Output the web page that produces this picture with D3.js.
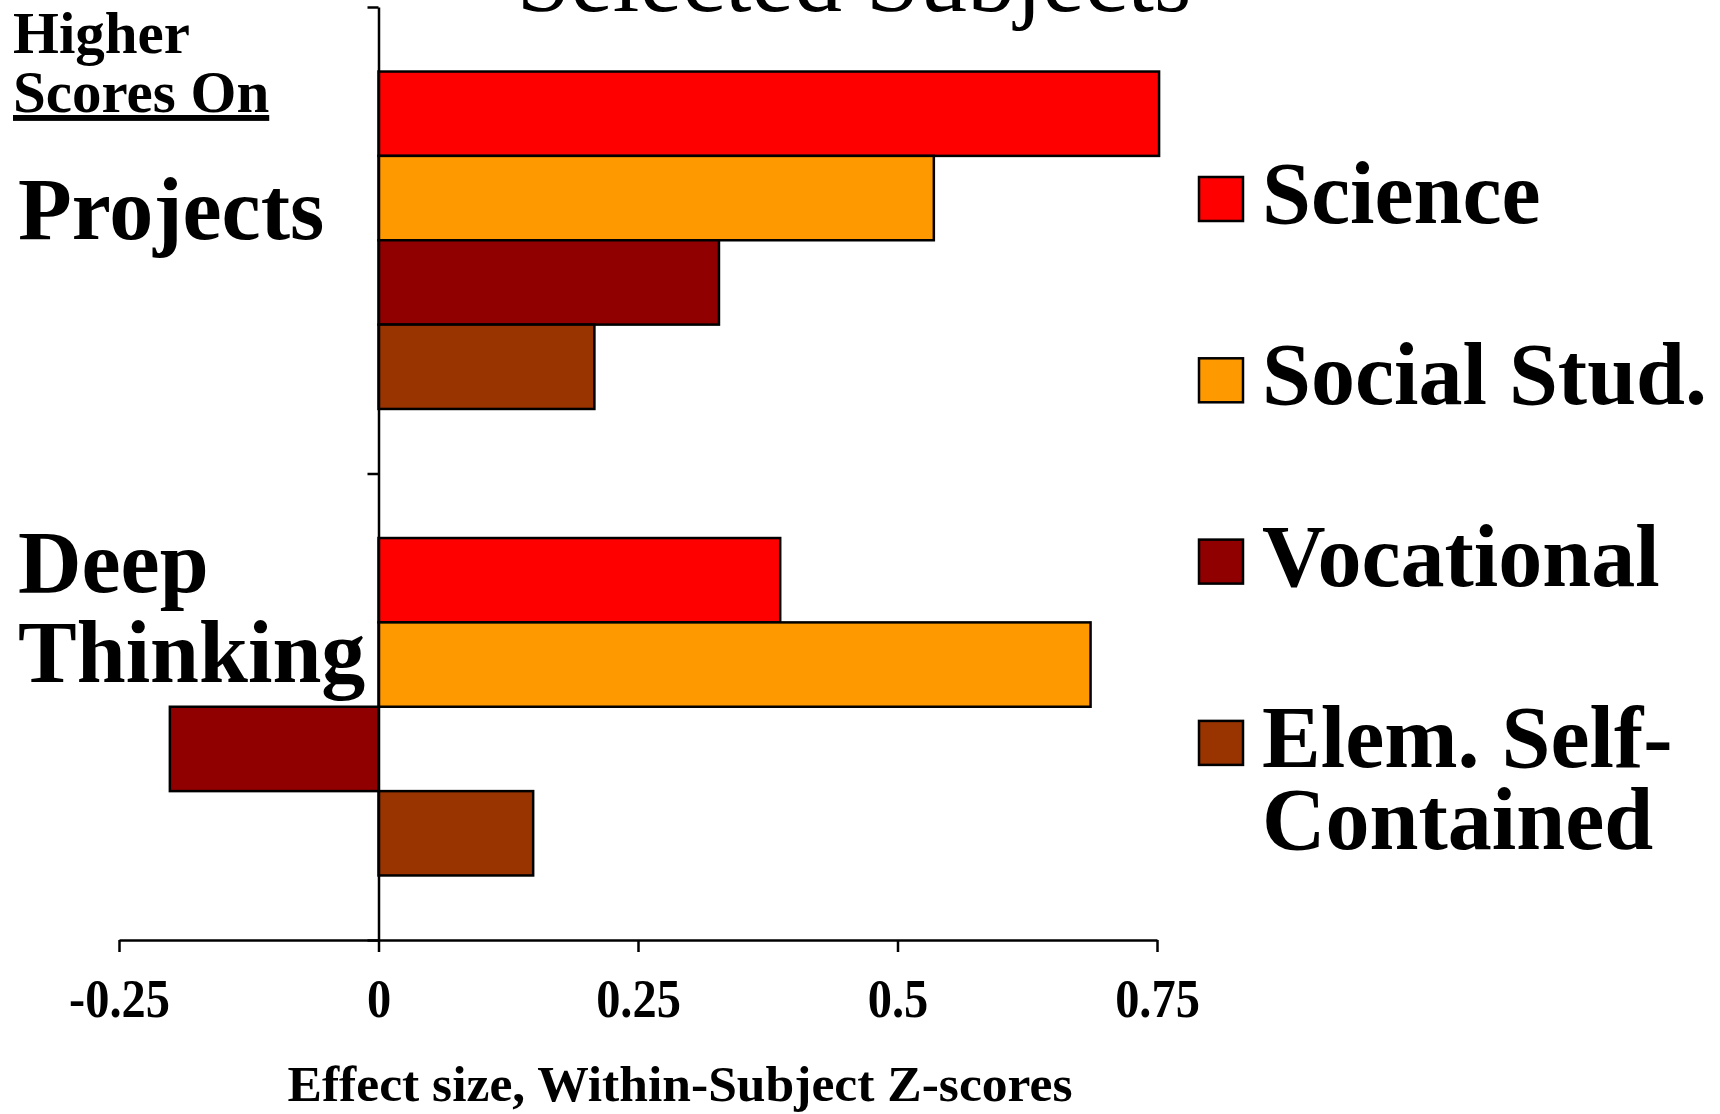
<!DOCTYPE html>
<html>
<head>
<meta charset="utf-8">
<script src="https://cdn.jsdelivr.net/npm/d3@7"></script>
<style>
  body { margin:0; background:#fff; }
  svg { display:block; font-family:"Liberation Serif","Times New Roman",serif; }
  .bold { font-weight:bold; }
</style>
</head>
<body>
<svg id="chart" width="1720" height="1114"></svg>
<script>
// data
const groups = ["Projects", "Deep Thinking"];
const series = ["Science", "Social Stud.", "Vocational", "Elem. Self-Contained"];
const projects = [0.752, 0.535, 0.328, 0.208];
const deepThinking = [0.387, 0.686, -0.201, 0.149];
const colors = ["#ff0000", "#ff9900", "#900000", "#993300"];
const tickValues = [-0.25, 0, 0.25, 0.5, 0.75];
const tickLabels = ["-0.25", "0", "0.25", "0.5", "0.75"];
const groupLabels = [["Projects"], ["Deep", "Thinking"]];
const legendLabels = [["Science"], ["Social Stud."], ["Vocational"], ["Elem. Self-", "Contained"]];

const values = [projects, deepThinking];
const FONT = "'Liberation Serif','Times New Roman',serif";
const svg = d3.select("#chart");

const x = d3.scaleLinear().domain([-0.25, 0.75]).range([119, 1157]);
const y0 = d3.scaleBand().domain(groups).range([7, 940]);
const y1 = d3.scaleBand().domain(series).range([0, y0.bandwidth()]).paddingInner(0).paddingOuter(0.765);

// title, cut off at the top like the slide
svg.append("text").attr("x", 854).attr("y", 11).attr("text-anchor", "middle")
  .style("font-size", "96px").text("Selected Subjects");

// bars
const rows = groups.flatMap((g, gi) => series.map((s, si) => ({ g, s, si, v:values[gi][si] })));
svg.append("g").selectAll("rect").data(rows).join("rect")
  .attr("x", d => x(Math.min(0, d.v))).attr("width", d => Math.abs(x(d.v)-x(0)))
  .attr("y", d => y0(d.g)+y1(d.s)).attr("height", y1.bandwidth())
  .attr("fill", d => colors[d.si]).attr("stroke", "#000").attr("stroke-width", 2.5);

// y axis: plain line with ticks at the band edges
const yEdge = d3.scaleLinear().domain([0, groups.length]).range([7, 940]);
const yAxis = svg.append("g").attr("transform", `translate(${x(0)},0)`)
  .call(d3.axisLeft(yEdge).tickValues(d3.range(groups.length+1)).tickFormat("").tickSize(11).tickSizeOuter(0));
yAxis.selectAll("path, line").attr("stroke", "#000").attr("stroke-width", 2.5);

// x axis, labels a bit condensed like the slide
const xAxis = svg.append("g").attr("transform", "translate(0,940)")
  .call(d3.axisBottom(x).tickValues(tickValues).tickFormat((d, i) => tickLabels[i]).tickSize(12).tickSizeOuter(0).tickPadding(26))
  .attr("font-family", FONT).attr("font-size", 55).attr("font-weight", "bold");
xAxis.selectAll("path, line").attr("stroke", "#000").attr("stroke-width", 2.5);
xAxis.selectAll("text").attr("fill", "#000").each(function() {
  this.setAttribute("textLength", this.getComputedTextLength()*0.88);
  this.setAttribute("lengthAdjust", "spacingAndGlyphs");
});

svg.append("text").attr("class", "bold").attr("x", 680).attr("y", 1101).attr("text-anchor", "middle")
  .attr("textLength", 785).attr("lengthAdjust", "spacingAndGlyphs")
  .style("font-size", "50px").text("Effect size, Within-Subject Z-scores");

// left captions
svg.append("text").attr("class", "bold").attr("x", 13).attr("y", 53).style("font-size", "59px").text("Higher");
svg.append("text").attr("class", "bold").attr("x", 13).attr("y", 112).style("font-size", "59px")
  .style("text-decoration", "underline").text("Scores On");

const groupBase = [239, 592];
groupLabels.forEach((lines, gi) => {
  svg.append("text").attr("class", "bold").style("font-size", "88px")
    .selectAll("tspan").data(lines).join("tspan")
    .attr("x", 18).attr("y", (d, i) => groupBase[gi]+i*90).text(d => d);
});

// legend
const legend = svg.append("g").selectAll("g").data(legendLabels).join("g")
  .attr("transform", (d, i) => `translate(1199,${177+i*181.3})`);
legend.append("rect").attr("width", 44).attr("height", 44)
  .attr("fill", (d, i) => colors[i]).attr("stroke", "#000").attr("stroke-width", 2.5);
legend.append("text").attr("class", "bold").style("font-size", "88px")
  .selectAll("tspan").data(d => d).join("tspan")
  .attr("x", 63).attr("y", (d, i) => 46+i*82).text(d => d);
</script>
</body>
</html>
